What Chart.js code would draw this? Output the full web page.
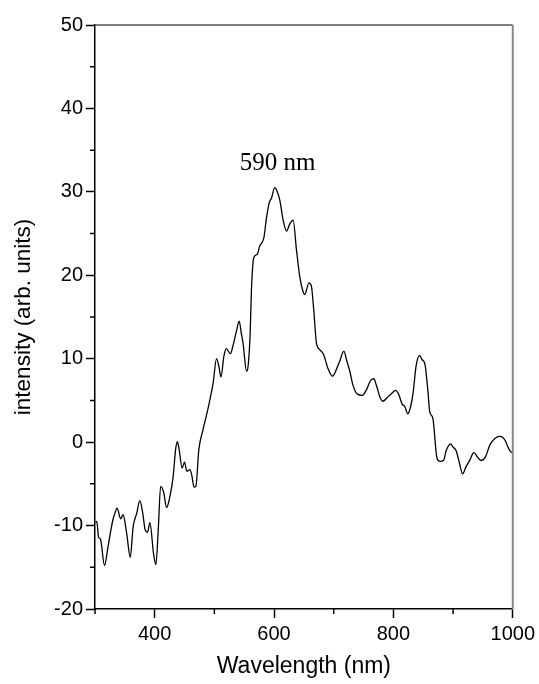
<!DOCTYPE html>
<html>
<head>
<meta charset="utf-8">
<title>Emission spectrum</title>
<script src="https://cdn.jsdelivr.net/npm/chart.js@4/dist/chart.umd.min.js"></script>
<style>
  html, body { margin: 0; padding: 0; background: #fff; }
  #wrap { position: relative; width: 539px; height: 684px; }
</style>
</head>
<body>
<div id="wrap"><canvas id="spectrum"></canvas></div>
<script>
// spectrum (nm vs. arb. units)
const wavelength = [
  301, 303, 306, 309, 316, 321, 325, 330, 333, 337, 343, 347, 353, 359, 364, 370, 375, 380,
  384, 388, 392, 398, 402, 406, 410, 415, 420, 425, 431, 435, 438, 441, 446, 450, 454, 459,
  462, 466, 469, 474, 481, 487, 492, 498, 503.6, 507.5, 511, 516, 520, 527, 531, 537, 541.5,
  545.5, 548, 554, 556.5, 560, 562, 566, 571.6, 576, 583, 587, 592, 596, 601, 605, 610, 615,
  621, 626, 632, 637.5, 643, 647.6, 651.4, 658.6, 662.6, 666.5, 671, 676.5, 683, 690, 698,
  705.5, 710, 717, 722, 727, 732, 739, 748, 755, 761, 767, 772, 778, 782.5, 789, 796.5, 804,
  809, 815, 819, 824, 829, 833, 838, 844, 848, 853, 857.7, 861, 866, 873, 878, 884, 888.5,
  896, 900, 905, 910, 916, 922, 927, 935, 941, 947, 954, 962, 970, 978, 983, 988, 992, 996, 1000
];
const intensity = [
  -9.6, -9.5, -11.4, -11.6, -14.8, -12.9, -11.2, -9.3, -8.6, -7.9, -9.2, -8.7, -10.9, -13.8, -10.1, -8.5, -7.0, -8.5,
  -10.5, -10.8, -9.65, -13.3, -14.7, -10.5, -5.3, -6.0, -7.85, -6.7, -4.1, -0.9, 0.07, -0.9, -3.1, -2.4, -3.5, -3.3,
  -3.9, -5.4, -5.3, -0.9, 1.5, 3.3, 4.9, 7.1, 10.0, 9.1, 7.8, 10.3, 11.2, 10.6, 11.5, 13.3, 14.5,
  12.9, 11.9, 8.5, 9.1, 13.0, 18.0, 22.1, 22.5, 23.5, 24.5, 26.7, 28.7, 29.3, 30.5, 30.1, 28.9, 26.7,
  25.3, 26.1, 26.6, 23.1, 19.9, 18.3, 17.7, 19.1, 18.7, 15.9, 11.9, 11.1, 10.5, 8.9, 7.9,
  8.9, 9.7, 10.9, 9.7, 8.5, 6.9, 5.8, 5.6, 6.3, 7.3, 7.6, 6.7, 5.3, 4.9, 5.3, 5.8, 6.2,
  5.7, 4.5, 4.3, 3.4, 4.3, 5.9, 9.1, 10.4, 9.9, 9.3, 6.2, 3.6, 2.9, -1.9, -2.3, -2.2, -1.0,
  -0.2, -0.6, -1.0, -2.3, -3.8, -2.9, -2.3, -1.25, -1.8, -2.2, -1.8, -0.3, 0.45, 0.7, 0.6, 0.1, -0.6, -1.1, -1.3
];

// axis ticks: labelled (major) and unlabelled (minor)
const xMajor = [400, 600, 800, 1000];
const xMinor = [300, 500, 700, 900];
const yMajor = [-20, -10, 0, 10, 20, 30, 40, 50];
const yMinor = [-15, -5, 5, 15, 25, 35, 45];

// peak annotation
const peakLabel = '590 nm';
const peakLabelAt = { x: 606, y: 33.4 };

const points = wavelength.map((w, i) => ({ x: w, y: intensity[i] }));

const frameAndMarks = {
  id: 'frameAndMarks',
  afterDraw(chart) {
    const { ctx, chartArea: a, scales } = chart;
    const xs = scales.x, ys = scales.y;
    ctx.save();
    // top and right frame
    ctx.lineWidth = 1.5;
    ctx.strokeStyle = '#555';
    ctx.beginPath();
    ctx.moveTo(a.left, a.top);
    ctx.lineTo(a.right, a.top);
    ctx.stroke();
    ctx.strokeStyle = '#888';
    ctx.lineWidth = 2;
    ctx.beginPath();
    ctx.moveTo(a.right, a.top);
    ctx.lineTo(a.right, a.bottom);
    ctx.stroke();
    // minor ticks
    ctx.strokeStyle = '#000';
    ctx.lineWidth = 1.5;
    ctx.beginPath();
    xMinor.forEach(v => {
      const px = xs.getPixelForValue(v);
      ctx.moveTo(px, a.bottom);
      ctx.lineTo(px, a.bottom + 5);
    });
    yMinor.forEach(v => {
      const py = ys.getPixelForValue(v);
      ctx.moveTo(a.left, py);
      ctx.lineTo(a.left - 5, py);
    });
    ctx.stroke();
    // peak label
    ctx.fillStyle = '#000';
    ctx.font = '25px "Liberation Serif", "Times New Roman", serif';
    ctx.textAlign = 'center';
    ctx.textBaseline = 'middle';
    ctx.fillText(peakLabel, xs.getPixelForValue(peakLabelAt.x), ys.getPixelForValue(peakLabelAt.y));
    ctx.restore();
  }
};

const sans = '"Liberation Sans", Arial, sans-serif';

new Chart(document.getElementById('spectrum').getContext('2d'), {
  type: 'line',
  data: {
    datasets: [{
      data: points,
      borderColor: '#000',
      borderWidth: 1.3,
      pointRadius: 0,
      fill: false,
      cubicInterpolationMode: 'monotone'
    }]
  },
  options: {
    responsive: true,
    maintainAspectRatio: false,
    animation: false,
    layout: { padding: { top: 25, right: 25.5, left: 0, bottom: 0 } },
    plugins: { legend: { display: false }, tooltip: { enabled: false } },
    scales: {
      x: {
        type: 'linear',
        min: 300,
        max: 1000,
        afterBuildTicks: s => { s.ticks = xMajor.map(v => ({ value: v })); },
        afterFit: s => { s.height = 75; },
        border: { color: '#000', width: 1.5 },
        grid: { drawOnChartArea: false, tickLength: 9, tickColor: '#000', tickWidth: 1.5 },
        ticks: { color: '#000', font: { family: sans, size: 20 }, padding: 4, maxRotation: 0, callback: v => String(v) },
        title: { display: true, text: 'Wavelength (nm)', color: '#000', font: { family: sans, size: 23 }, padding: { top: 2, bottom: 4 } }
      },
      y: {
        min: -20,
        max: 50,
        afterBuildTicks: s => { s.ticks = yMajor.map(v => ({ value: v })); },
        afterFit: s => { s.width = 95; },
        border: { color: '#000', width: 1.5 },
        grid: { drawOnChartArea: false, tickLength: 9, tickColor: '#000', tickWidth: 1.5 },
        ticks: { color: '#000', font: { family: sans, size: 20 }, padding: 3, callback: v => String(v) },
        title: { display: true, text: 'intensity (arb. units)', color: '#000', font: { family: sans, size: 22.5 }, padding: { top: 10, bottom: 4 } }
      }
    }
  },
  plugins: [frameAndMarks]
});
</script>
</body>
</html>
